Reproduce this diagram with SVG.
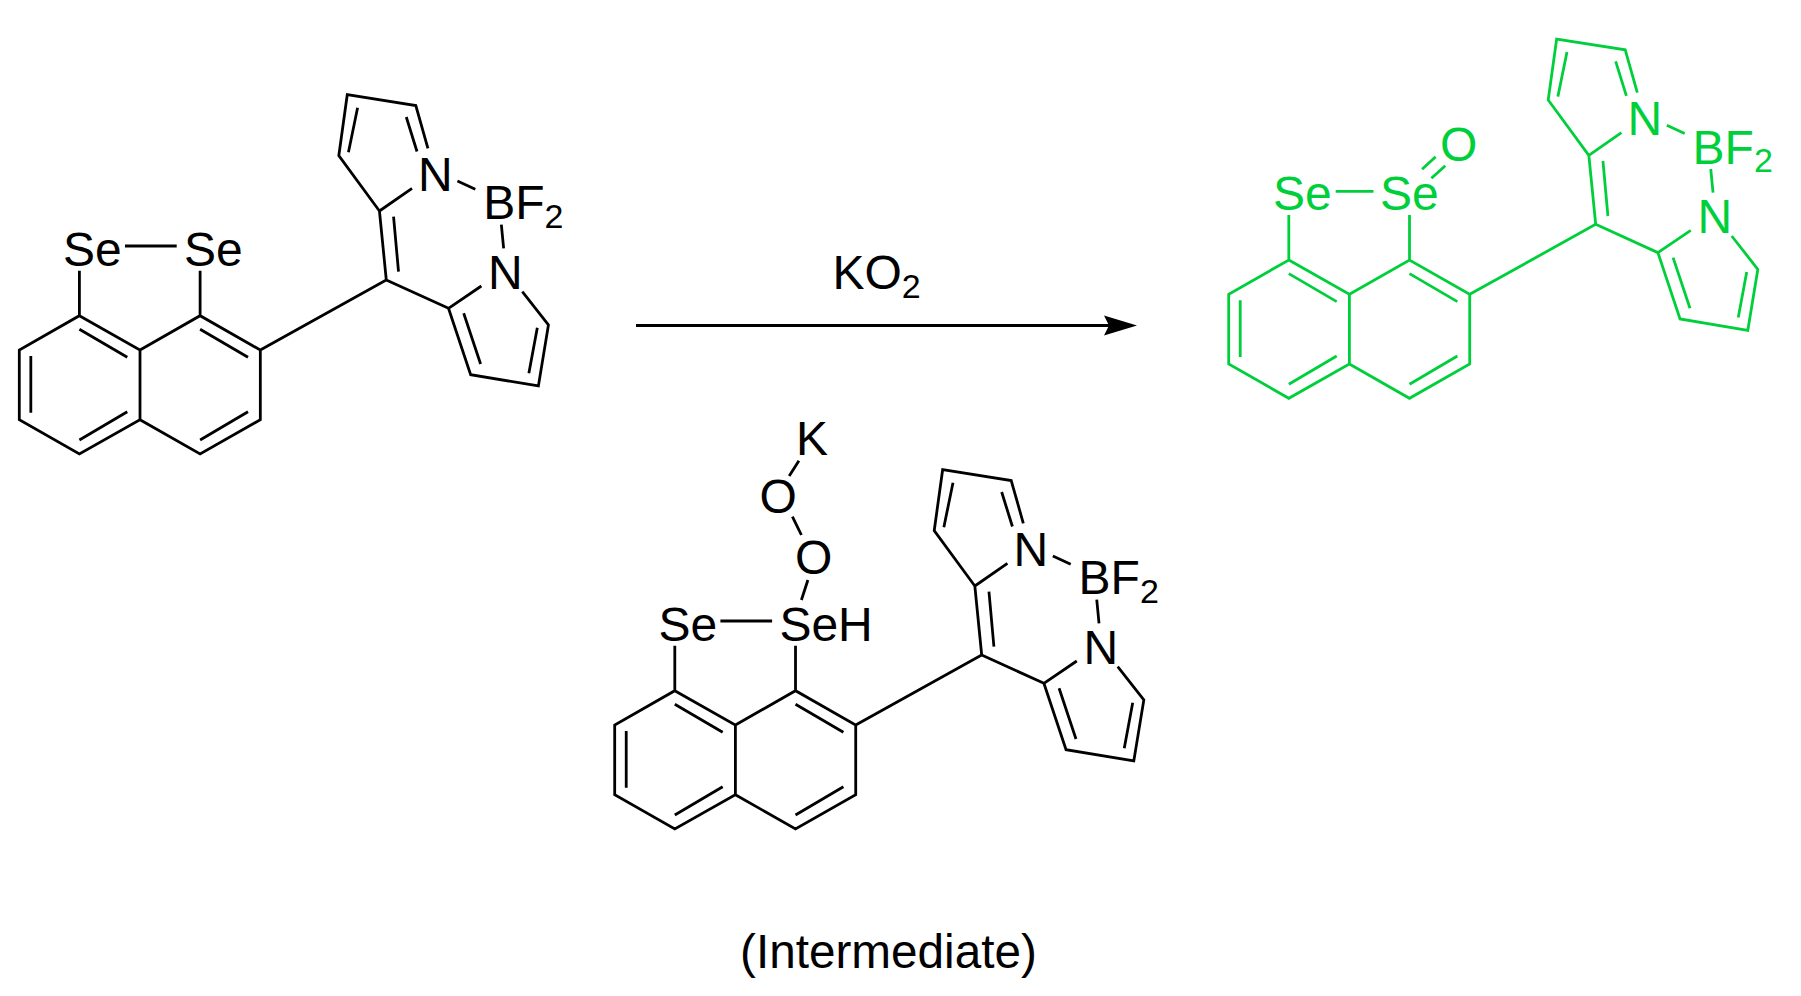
<svg xmlns="http://www.w3.org/2000/svg" width="1801" height="996" viewBox="0 0 1801 996">
<style>
.k{stroke:#000;fill:#000}
.g{stroke:#00cf3c;fill:#00cf3c}
.b{fill:none;stroke-width:2.800;stroke-linecap:butt;stroke-linejoin:miter}
text{font-family:"Liberation Sans",Arial,sans-serif;font-size:48px;stroke:none}
.s{font-size:34px}
</style>
<defs>
<path id="skeleton" transform="translate(.125 0) scale(.9935 1)" d="M79.800 315.700L140.800 350V419.700L79.800 454L19.300 419.700V350ZM140.800 350L201.300 315.700L261.900 350V419.700L201.300 454L140.800 419.700M79.800 329.300L128 357.300M30.900 356V412.700M79.800 440L128 411.700M201.300 329.300L249.500 357.300M249.500 411.700L201.300 440M79.800 270.700V315.700M201.300 270.700V315.700M261.900 350L388.700 280L381.800 211M401 271.700L396 216.700M388.700 280L451.300 308.300M381.800 211L340.900 155.700L349.400 94.700L418.400 105.500L430.600 148.300M350.600 152.300L359.800 107.700M419.600 151.500L408.800 117M381.800 211L414.600 188.300M460.300 181L478.300 189.300M504.500 224.700L506.800 248.300M451.300 308.300L484.400 286M451.300 308.300L473.600 374.700L541.800 386L551.900 325L525.600 291.700M466.600 313.300L483.600 364M532.200 373.300L540.700 327.700"/>
</defs>
<g id="reactant" class="k">
<use href="#skeleton" class="b"/>
<path class="b" d="M125 246H176.700"/>
<text x="63" y="266">Se</text>
<text x="184" y="266">Se</text>
<text x="418" y="190.700">N</text>
<text x="483.200" y="219.300">BF<tspan class="s" dy="8.500">2</tspan></text>
<text x="488" y="288.500">N</text>
</g>
<g id="reaction-arrow" class="k">
<path class="b" d="M636 325.500H1112"/>
<polygon points="1137,325.500 1104,315.500 1109,325.500 1104,335.500" stroke="none"/>
<text x="832.500" y="289">KO<tspan class="s" dy="8.500">2</tspan></text>
</g>
<g id="product" class="g" transform="translate(1209.400 -55.700)">
<use href="#skeleton" class="b"/>
<path class="b" d="M126.300 247H164.100M212.700 225L226.200 212.400M222 234L235.900 221.400"/>
<text x="63.500" y="266">Se</text>
<text x="170.500" y="266">Se</text>
<text x="230.500" y="216.500">O</text>
<text x="418" y="190.700">N</text>
<text x="483.200" y="219.300">BF<tspan class="s" dy="8.500">2</tspan></text>
<text x="488" y="288.500">N</text>
</g>
<g id="intermediate" class="k" transform="translate(595.400 375)">
<use href="#skeleton" class="b"/>
<path class="b" d="M125 246H176.700M203.500 85.700L193.800 101M197 141.700L206 160M212.500 205L206 225"/>
<text x="63" y="266">Se</text>
<text x="184" y="266">SeH</text>
<text x="164" y="138">O</text>
<text x="199.500" y="199">O</text>
<text x="200.500" y="80">K</text>
<text x="418" y="190.700">N</text>
<text x="483.200" y="219.300">BF<tspan class="s" dy="8.500">2</tspan></text>
<text x="488" y="288.500">N</text>
</g>
<text id="intermediate-label" x="740" y="968" style="font-size:47.700px">(Intermediate)</text>
</svg>
